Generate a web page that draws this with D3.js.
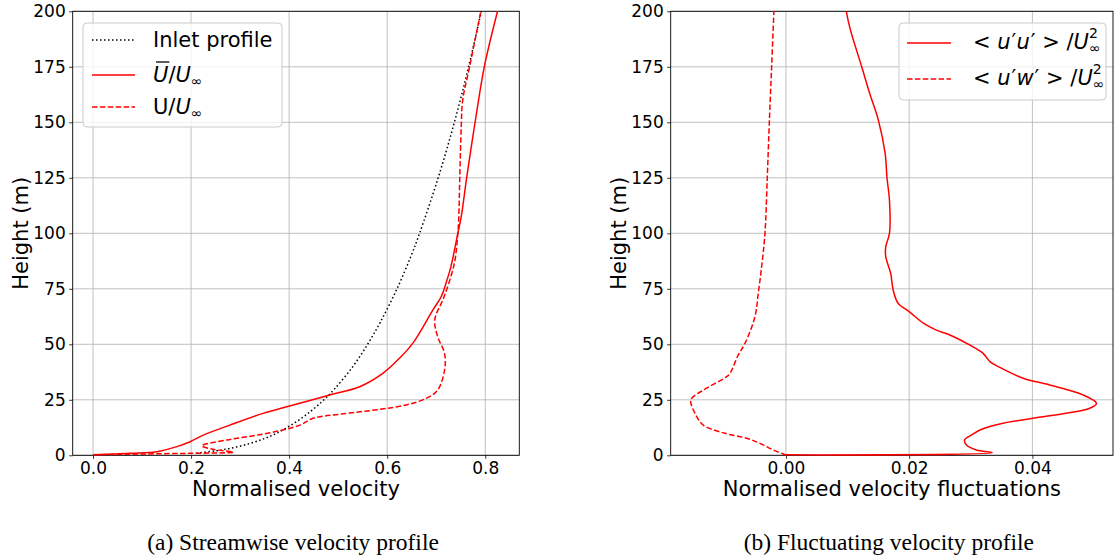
<!DOCTYPE html>
<html>
<head>
<meta charset="utf-8">
<script src="https://cdn.jsdelivr.net/npm/d3@7"></script>
<style>
body { margin: 0; background: #fff; }
svg text { font-family: "DejaVu Sans", sans-serif; fill: #000; white-space: pre; }
.grid line { stroke: #b0b0b0; stroke-width: 0.8; }
.caption { font-family: "Liberation Serif", "Times New Roman", serif; font-size: 23.5px; }
</style>
</head>
<body>
<div id="chart"></div>
<script>
//Datos - (a) velocidad
const inletZ = [1, 2, 3, 5, 7.5, 10, 15, 20, 25, 30, 40, 50, 60, 75, 90, 100, 125, 150, 175, 200]
const inletU = [0.211, 0.250, 0.277, 0.315, 0.349, 0.375, 0.414, 0.445, 0.471, 0.493, 0.530, 0.560, 0.586, 0.620, 0.649, 0.666, 0.704, 0.737, 0.766, 0.792]

const meanZ = [0.2, 0.9, 1.6, 3.9, 6.1, 9.1, 13.6, 18.9, 22.2, 27.2, 30.9, 36.9, 43.7, 50.4, 65.4, 71.4, 79, 85, 100, 107.5, 125, 152.5, 175, 200]
const meanU = [0.0, 0.076, 0.130, 0.171, 0.198, 0.225, 0.279, 0.347, 0.401, 0.483, 0.544, 0.591, 0.625, 0.652, 0.693, 0.710, 0.722, 0.730, 0.744, 0.751, 0.762, 0.781, 0.798, 0.825]

const instZ = [0.2, 0.6, 0.9, 1.4, 2.7, 4.3, 6.9, 8.8, 11.1, 13.6, 16.7, 18.5, 20.7, 22.7, 25.7, 29.4, 38.4, 45.9, 53.4, 61, 71.4, 86.5, 100, 107.5, 125, 148, 160, 175, 200]
const instU = [0.0, 0.1, 0.2, 0.286, 0.245, 0.222, 0.273, 0.327, 0.381, 0.422, 0.449, 0.503, 0.585, 0.639, 0.680, 0.703, 0.717, 0.717, 0.703, 0.697, 0.716, 0.737, 0.744, 0.746, 0.748, 0.751, 0.754, 0.768, 0.791]

//Datos - (b) fluctuaciones
const uuZ = [0.2, 1.2, 2.4, 4.6, 6.9, 9.1, 11.4, 14.1, 16.7, 18.9, 21.2, 23.4, 27.2, 31.7, 34.7, 39.6, 42.2, 45.9, 49.7, 54.2, 56.4, 59.5, 64.7, 68.5, 74.5, 82, 89.5, 94, 100, 115, 125, 136, 151, 163, 175, 192.3, 200]
const uuV = [0.0, 0.0335, 0.0309, 0.0293, 0.0290, 0.0301, 0.0315, 0.0347, 0.0401, 0.0455, 0.0493, 0.0504, 0.0482, 0.0428, 0.0385, 0.0347, 0.0331, 0.0320, 0.0298, 0.0266, 0.0244, 0.0223, 0.0200, 0.0182, 0.0174, 0.0170, 0.0162, 0.0162, 0.0168, 0.0168, 0.0164, 0.0161, 0.0150, 0.0136, 0.0123, 0.0104, 0.0098]

const uwZ = [0, 0.6, 2.4, 5.4, 7.7, 9.9, 13.6, 18.9, 24.1, 25.7, 29.4, 35.4, 36.9, 45.2, 50.4, 62.4, 73, 85, 100, 125, 149.5, 175, 200]
const uwV = [0.0, -0.00044, -0.00206, -0.00422, -0.00638, -0.00989, -0.01341, -0.01476, -0.01546, -0.0153, -0.01341, -0.00962, -0.00908, -0.00773, -0.00665, -0.00503, -0.00449, -0.00394, -0.0034, -0.00303, -0.0027, -0.00232, -0.00195]

const yTicks = [0, 25, 50, 75, 100, 125, 150, 175, 200]
const xTicksA = [0.0, 0.2, 0.4, 0.6, 0.8]
const xTicksB = [0.00, 0.02, 0.04]

//Constantes
const width = 1114
const height = 560
const yTop = 11.3
const yBottom = 455.3
const red = "#ff0000"

const svg = d3.select("#chart")
    .append("svg")
    .attr("width", width)
    .attr("height", height)

//Escalas
const y = d3.scaleLinear().domain([0, 200]).range([yBottom, yTop])
const xA = d3.scaleLinear().domain([-0.0414, 0.8694]).range([72.7, 519.3])
const xB = d3.scaleLinear().domain([-0.01870, 0.05308]).range([670.7, 1113])

function panel(x, xTicks, fmt, xLabel, caption) {
    const g = svg.append("g")
    const [x0, x1] = x.range()
    const grid = g.append("g").attr("class", "grid")
    grid.selectAll(".gx").data(xTicks).enter().append("line")
        .attr("x1", d => x(d)).attr("x2", d => x(d))
        .attr("y1", yTop).attr("y2", yBottom)
    grid.selectAll(".gy").data(yTicks).enter().append("line")
        .attr("x1", x0).attr("x2", x1)
        .attr("y1", d => y(d)).attr("y2", d => y(d))

    const xAxis = d3.axisBottom(x).tickValues(xTicks).tickFormat(d3.format(fmt)).tickSize(3.5).tickPadding(3).tickSizeOuter(0)
    const yAxis = d3.axisLeft(y).tickValues(yTicks).tickSize(3.5).tickPadding(3.5).tickSizeOuter(0)
    const xg = g.append("g").attr("transform", `translate(0, ${yBottom})`).call(xAxis)
    const yg = g.append("g").attr("transform", `translate(${x0}, 0)`).call(yAxis)
    ;[xg, yg].forEach(a => {
        a.select(".domain").remove()
        a.selectAll("text").style("font-size", "17px").style("font-family", "DejaVu Sans")
        a.selectAll("line").attr("stroke", "#000").attr("stroke-width", 0.8)
    })

    g.append("rect")
        .attr("x", x0).attr("y", yTop)
        .attr("width", x1 - x0).attr("height", yBottom - yTop)
        .attr("fill", "none").attr("stroke", "#000").attr("stroke-width", 0.9)

    g.append("text")
        .attr("x", (x0 + x1) / 2).attr("y", 496)
        .attr("text-anchor", "middle").style("font-size", "21px")
        .text(xLabel)
    g.append("text")
        .attr("transform", `translate(${x0 - 45}, ${(yTop + yBottom) / 2}) rotate(-90)`)
        .attr("text-anchor", "middle").style("font-size", "21px")
        .text("Height (m)")
    g.append("text")
        .attr("class", "caption")
        .attr("x", (x0 + x1) / 2 - 3).attr("y", 550)
        .attr("text-anchor", "middle")
        .text(caption)
    return g
}

const gA = panel(xA, xTicksA, ".1f", "Normalised velocity", "(a) Streamwise velocity profile")
const gB = panel(xB, xTicksB, ".2f", "Normalised velocity fluctuations", "(b) Fluctuating velocity profile")

function curve(g, x, vals, zs, color, dash, lw) {
    const pts = vals.map((v, i) => [v, zs[i]])
    g.append("path")
        .datum(pts)
        .attr("fill", "none")
        .attr("stroke", color)
        .attr("stroke-width", lw)
        .attr("stroke-dasharray", dash)
        .attr("stroke-linejoin", "round")
        .attr("d", d3.line().curve(d3.curveCatmullRom.alpha(0.5)).x(d => x(d[0])).y(d => y(d[1])))
}

const dashed = "5.5,2.4"
const dotted = "1.5,2.5"
curve(gA, xA, inletU, inletZ, "#000", dotted, 1.5)
curve(gA, xA, meanU, meanZ, red, null, 1.5)
curve(gA, xA, instU, instZ, red, dashed, 1.5)
curve(gB, xB, uuV, uuZ, red, null, 1.5)
curve(gB, xB, uwV, uwZ, red, dashed, 1.5)

// texto con partes (italica, sub/superindices)
function rich(g, x, y0, parts) {
    let cx = x
    const nodes = []
    parts.forEach(p => {
        const t = g.append("text")
            .attr("x", cx + (p.dx || 0)).attr("y", y0 + (p.dy || 0))
            .style("font-size", (p.size || 21) + "px")
            .style("font-style", p.italic ? "italic" : "normal")
            .text(p.t)
        const w = t.node().getComputedTextLength()
        nodes.push({ x: cx + (p.dx || 0), w: w })
        if (!p.hold) cx += w + (p.dx || 0)
    })
    return nodes
}

//Leyenda (a)
const legA = gA.append("g")
legA.append("rect").attr("x", 83).attr("y", 23).attr("width", 199).attr("height", 104)
    .attr("rx", 4).attr("fill", "#fff").attr("fill-opacity", 0.8).attr("stroke", "#cccccc")
const legItemsA = [
    { y: 40, color: "#000", dash: dotted },
    { y: 75, color: red, dash: null },
    { y: 107, color: red, dash: dashed }
]
legItemsA.forEach(d => {
    legA.append("line").attr("x1", 92).attr("x2", 135).attr("y1", d.y).attr("y2", d.y)
        .attr("stroke", d.color).attr("stroke-width", 1.5).attr("stroke-dasharray", d.dash)
})
rich(legA, 153, 47, [{ t: "Inlet profile" }])
const r2 = rich(legA, 153, 82, [
    { t: "U", italic: true },
    { t: "/" },
    { t: "U", italic: true },
    { t: "∞", size: 14, dy: 4 }
])
legA.append("line").attr("x1", r2[0].x + 3).attr("x2", r2[0].x + r2[0].w + 1)
    .attr("y1", 62).attr("y2", 62).attr("stroke", "#000").attr("stroke-width", 1.3)
rich(legA, 153, 113.5, [
    { t: "U/" },
    { t: "U", italic: true },
    { t: "∞", size: 14, dy: 4 }
])

//Leyenda (b)
const legB = gB.append("g")
legB.append("rect").attr("x", 899).attr("y", 23).attr("width", 207).attr("height", 77)
    .attr("rx", 4).attr("fill", "#fff").attr("fill-opacity", 0.8).attr("stroke", "#cccccc")
const legItemsB = [
    { y: 43, dash: null, a: "u", b: "u", base: 49 },
    { y: 79, dash: dashed, a: "u", b: "w", base: 85 }
]
legItemsB.forEach(d => {
    legB.append("line").attr("x1", 907).attr("x2", 951).attr("y1", d.y).attr("y2", d.y)
        .attr("stroke", red).attr("stroke-width", 1.5).attr("stroke-dasharray", d.dash)
    rich(legB, 973, d.base, [
        { t: "< " },
        { t: d.a, italic: true },
        { t: "′", dx: 1 },
        { t: d.b, italic: true },
        { t: "′", dx: 1 },
        { t: " > /" },
        { t: "U", italic: true },
        { t: "2", size: 14, dy: -11, hold: true },
        { t: "∞", size: 14, dy: 4 }
    ])
})
</script>
</body>
</html>
